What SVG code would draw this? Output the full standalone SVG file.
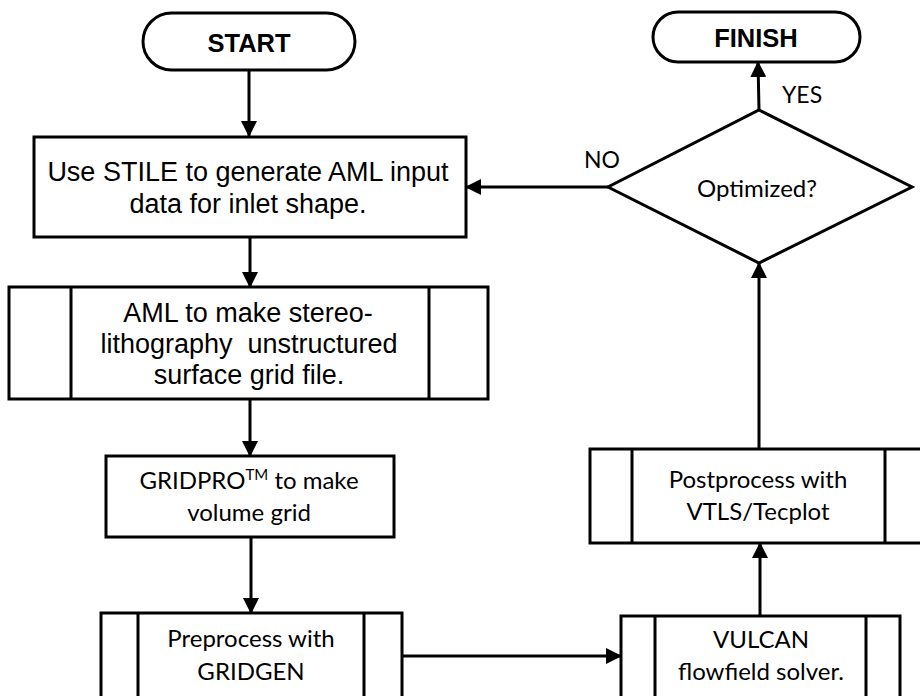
<svg xmlns="http://www.w3.org/2000/svg" width="920" height="696" viewBox="0 0 920 696">
<style>
.box{fill:#fff;stroke:#000;stroke-width:3}
.ln{fill:none;stroke:#000;stroke-width:3}
.conn{fill:none;stroke:#000;stroke-width:3}
.ar{font-family:"Liberation Sans",Arial,sans-serif;font-size:27px;fill:#000;text-anchor:middle;white-space:pre}
.bold{font-family:"Liberation Sans",Arial,sans-serif;font-size:25.5px;font-weight:bold;fill:#000;text-anchor:middle}
.cal{font-family:Lato,"Open Sans",sans-serif;font-size:24px;fill:#000;text-anchor:middle}
.lbl{font-family:Lato,"Open Sans",sans-serif;font-size:23px;fill:#000}
</style>
<defs>
<marker id="arr" markerUnits="userSpaceOnUse" markerWidth="16" markerHeight="16" viewBox="0 0 16 16" refX="15" refY="8" orient="auto">
<path d="M0,0 L16,8 L0,16 Z" fill="#000"/>
</marker>
</defs>
<rect width="920" height="696" fill="#fff"/>
<g id="connectors">
<line class="conn" x1="249" y1="70" x2="249" y2="136" marker-end="url(#arr)"/>
<line class="conn" x1="250" y1="237" x2="250" y2="287" marker-end="url(#arr)"/>
<line class="conn" x1="250" y1="400" x2="250" y2="456" marker-end="url(#arr)"/>
<line class="conn" x1="251" y1="537" x2="251" y2="613" marker-end="url(#arr)"/>
<line class="conn" x1="402" y1="656" x2="621" y2="656" marker-end="url(#arr)"/>
<line class="conn" x1="760" y1="616" x2="760" y2="543" marker-end="url(#arr)"/>
<line class="conn" x1="759" y1="449" x2="759" y2="263" marker-end="url(#arr)"/>
<line class="conn" x1="759" y1="110" x2="758" y2="62" marker-end="url(#arr)"/>
<line class="conn" x1="608" y1="187" x2="466" y2="187" marker-end="url(#arr)"/>
<text class="lbl" x="584" y="168">NO</text>
<text class="lbl" x="782" y="103">YES</text>
</g>
<g id="start">
<rect class="box" x="143" y="13" width="212" height="57" rx="28.5"/>
<text class="bold" x="249" y="52">START</text>
</g>
<g id="finish">
<rect class="box" x="653" y="12" width="207" height="50" rx="25"/>
<text class="bold" x="756" y="47">FINISH</text>
</g>
<g id="stile">
<rect class="box" x="34" y="137" width="432" height="100"/>
<text class="ar" x="248" y="181">Use STILE to generate AML input</text>
<text class="ar" x="248" y="213">data for inlet shape.</text>
</g>
<g id="aml">
<rect class="box" x="9" y="287" width="479" height="112"/>
<line class="ln" x1="71" y1="287" x2="71" y2="399"/>
<line class="ln" x1="429" y1="287" x2="429" y2="399"/>
<text class="ar" x="248" y="322">AML to make stereo-</text>
<text class="ar" x="249" y="353">lithography  unstructured</text>
<text class="ar" x="249" y="384">surface grid file.</text>
</g>
<g id="gridpro">
<rect class="box" x="106" y="456" width="288" height="81"/>
<text class="cal" x="249" y="489">GRIDPRO<tspan font-size="15" dy="-9">TM</tspan><tspan dy="9"> to make</tspan></text>
<text class="cal" x="249" y="521">volume grid</text>
</g>
<g id="preprocess">
<rect class="box" x="101" y="613" width="301" height="100"/>
<line class="ln" x1="138" y1="613" x2="138" y2="713"/>
<line class="ln" x1="364" y1="613" x2="364" y2="713"/>
<text class="cal" x="251" y="647">Preprocess with</text>
<text class="cal" x="251" y="680">GRIDGEN</text>
</g>
<g id="vulcan">
<rect class="box" x="621" y="616" width="279" height="100"/>
<line class="ln" x1="655" y1="616" x2="655" y2="716"/>
<line class="ln" x1="866" y1="616" x2="866" y2="716"/>
<text class="cal" x="761" y="648">VULCAN</text>
<text class="cal" x="761" y="680">flowfield solver.</text>
</g>
<g id="postprocess">
<rect class="box" x="590" y="449" width="338" height="94"/>
<line class="ln" x1="632" y1="449" x2="632" y2="543"/>
<line class="ln" x1="885" y1="449" x2="885" y2="543"/>
<text class="cal" x="758" y="488">Postprocess with</text>
<text class="cal" x="758" y="520">VTLS/Tecplot</text>
</g>
<g id="optimized">
<polygon class="box" points="759,110 912,187 759,263 608,187"/>
<text class="cal" x="757" y="197">Optimized?</text>
</g>
</svg>
